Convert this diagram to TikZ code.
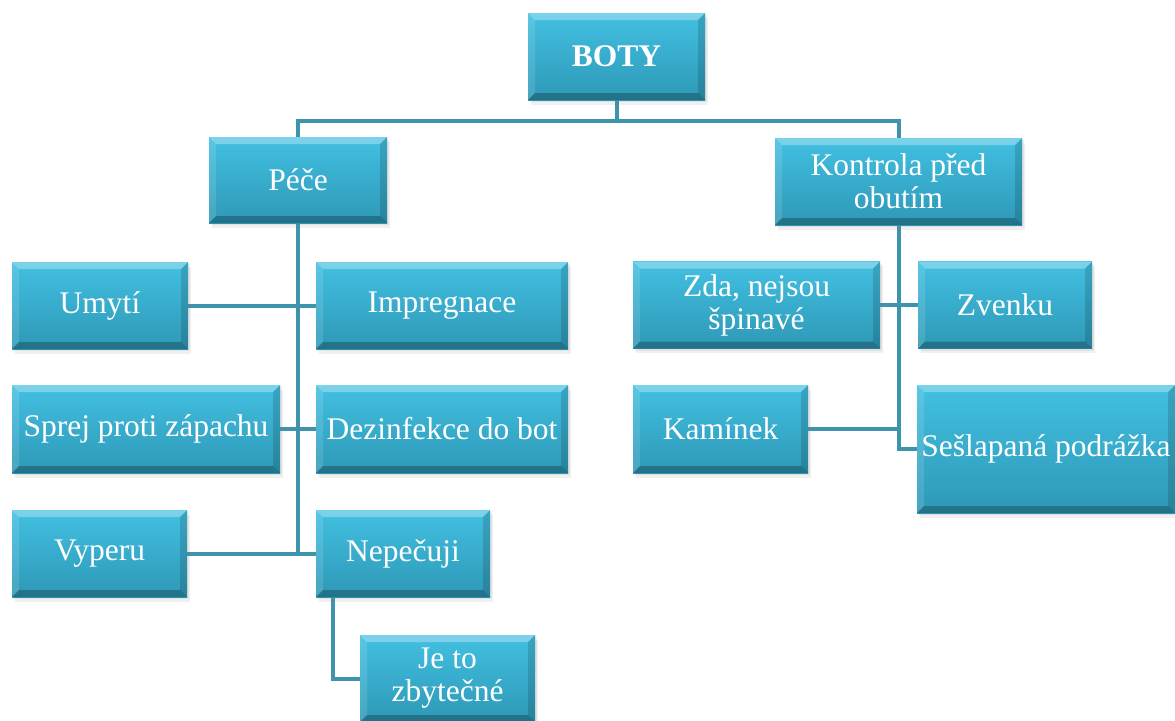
\documentclass[tikz,border=0pt]{standalone}
\usepackage{fontspec}
\setmainfont{Liberation Serif}
\usetikzlibrary{calc,shadows,backgrounds}

\definecolor{facetop}{HTML}{42C0E2}
\definecolor{facebot}{HTML}{2E98B6}
\definecolor{connclr}{HTML}{3E93AD}

\tikzset{
  bevelbox/.style={
    rectangle, inner sep=0pt, align=center, text=white,
    font=\fontsize{31.5}{33}\selectfont,
    top color=facetop, bottom color=facebot, draw=none,
    drop shadow={opacity=0.12, shadow xshift=1.5pt, shadow yshift=-2pt},
    drop shadow={opacity=0.12, shadow xshift=3pt, shadow yshift=-4.5pt},
    path picture={
      \coordinate (nw) at (path picture bounding box.north west);
      \coordinate (ne) at (path picture bounding box.north east);
      \coordinate (sw) at (path picture bounding box.south west);
      \coordinate (se) at (path picture bounding box.south east);
      % top and left facets catch the light
      \fill[white, opacity=0.30] (nw) -- (ne) -- ($(ne)+(-7pt,-7pt)$) -- ($(nw)+(7pt,-7pt)$) -- cycle;
      \fill[white, opacity=0.12] (nw) -- ($(nw)+(7pt,-7pt)$) -- ($(sw)+(7pt,7pt)$) -- (sw) -- cycle;
      % bottom and right facets in shade
      \fill[black, opacity=0.25] (sw) -- (se) -- ($(se)+(-7pt,7pt)$) -- ($(sw)+(7pt,7pt)$) -- cycle;
      \fill[black, opacity=0.14] (ne) -- (se) -- ($(se)+(-7pt,7pt)$) -- ($(ne)+(-7pt,-7pt)$) -- cycle;
    }
  },
  conn/.style={draw=connclr, line width=4pt, line join=miter}
}

\begin{document}
\begin{tikzpicture}[x=1pt, y=-1pt]
\useasboundingbox (0,0) rectangle (1175,720);

% top level
\node[bevelbox, minimum width=177pt, minimum height=87pt, font=\fontsize{31.5}{33}\selectfont\bfseries] (boty) at (616.5,56.5) {BOTY};

% second level
\node[bevelbox, minimum width=178pt, minimum height=86pt] (pece) at (298,180) {Péče};
\node[bevelbox, minimum width=247pt, minimum height=87pt] (kontrola) at (898.5,181.5) {Kontrola před\\obutím};

% care branch
\node[bevelbox, minimum width=176pt, minimum height=87pt] (umyti) at (100,305.5) {Umytí};
\node[bevelbox, minimum width=252pt, minimum height=87pt] (impregnace) at (442,305.5) {Impregnace};
\node[bevelbox, minimum width=268pt, minimum height=88pt] (sprej) at (146,429) {Sprej proti zápachu};
\node[bevelbox, minimum width=252pt, minimum height=88pt] (dezinfekce) at (442,429) {Dezinfekce do bot};
\node[bevelbox, minimum width=175pt, minimum height=87pt] (vyperu) at (99.5,553.5) {Vyperu};
\node[bevelbox, minimum width=174pt, minimum height=87pt] (nepecuji) at (403,553.5) {Nepečuji};
\node[bevelbox, minimum width=175pt, minimum height=87pt] (zbytecne) at (447.5,678.5) {Je to\\zbytečné};

% check branch
\node[bevelbox, minimum width=247pt, minimum height=87pt] (zda) at (756.5,305) {Zda, nejsou\\špinavé};
\node[bevelbox, minimum width=174pt, minimum height=87pt] (zvenku) at (1005,305) {Zvenku};
\node[bevelbox, minimum width=175pt, minimum height=88pt] (kaminek) at (720.5,429) {Kamínek};
\node[bevelbox, minimum width=258pt, minimum height=128pt] (seslapana) at (1046,449) {Sešlapaná podrážka};

\coordinate (bar) at (616.5,121);

\begin{scope}[on background layer]
  \draw[conn] (boty.south) -- (bar);
  \draw[conn] (pece.north) |- (bar) -| (kontrola.north);
  % care trunk
  \draw[conn] (pece.south) -- (pece.south |- vyperu.east);
  \draw[conn] (umyti.east) -- (impregnace.west);
  \draw[conn] (sprej.east) -- (dezinfekce.west);
  \draw[conn] (vyperu.east) -- (nepecuji.west);
  \draw[conn] ([xshift=17pt]nepecuji.south west) |- (zbytecne.west);
  % check trunk
  \draw[conn] (kontrola.south) |- (seslapana.west);
  \draw[conn] (zda.east) -- (zvenku.west);
  \draw[conn] (kaminek.east) -- (kaminek.east -| kontrola.south);
\end{scope}
\end{tikzpicture}
\end{document}
